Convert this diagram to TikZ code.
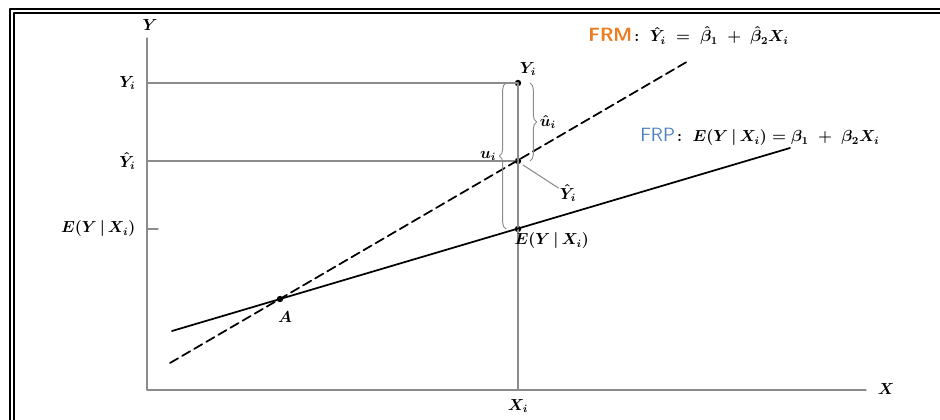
\documentclass[tikz,border=0pt]{standalone}
\usepackage{amsmath}
\usetikzlibrary{calc,decorations.pathreplacing}

\definecolor{frmorange}{HTML}{EE7D22}
\definecolor{frpblue}{HTML}{4F81BD}

\tikzset{
  axis/.style={draw=black!45, line width=1pt},
  guide/.style={draw=black!45, line width=0.8pt},
  lbl/.style={inner sep=1pt, font=\large\boldmath},
  dot/.style={circle, fill=black, inner sep=1.7pt},
  curlybrace/.style={decorate, decoration={brace, amplitude=5pt}, draw=black!45, line width=0.7pt},
}

\begin{document}
\begin{tikzpicture}[x=0.75pt, y=-0.75pt, line cap=round, line join=round]
  \useasboundingbox (0,0) rectangle (940,420);
  \clip (0,0) rectangle (940,420);
  % The double frame, cut off at the right and the bottom.
  \draw[line width=1.2pt] (10,460) -- (10,9) -- (960,9);
  \draw[line width=1.2pt] (14,460) -- (14,13) -- (960,13);

  % Axes.
  \coordinate (O) at (147,390);
  \coordinate (ytop) at (147,38);
  \coordinate (xend) at (866,390);
  \node[lbl] (ylab) at (150,25) {$Y$};
  \node[lbl] (xlab) at (886,389) {$X$};
  \draw[axis] (ytop) -- (O) -- (xend);

  % The three values at X_i, and the point where both lines cross.
  \node[dot] (Yi) at (518,83) {};
  \node[dot] (Yhat) at (518,161) {};
  \node[dot] (EY) at (518,229) {};
  \node[dot] (A) at (280,299) {};
  \coordinate (Xi) at (518,390);

  % Guides to the axes.
  \draw[guide] (Yi.center) -- (Xi);
  \draw[guide] (Yi.center) -- (O |- Yi);
  \draw[guide] (Yhat.center) -- (O |- Yhat);
  \draw[guide] (O |- EY) -- ++(11,0);

  \node[lbl, anchor=east] (yilab) at ($(O |- Yi)+(-10,0)$) {$Y_i$};
  \node[lbl, anchor=east] (yhatlab) at ($(O |- Yhat)+(-10,0)$) {$\hat{Y}_i$};
  \node[lbl, anchor=east] (eylab) at ($(O |- EY)+(-10,0)$) {$E(Y\,|\,X_i)$};
  \node[lbl] (xilab) at (518,406) {$X_i$};

  % Population line (solid) and sample line (dashed).
  \coordinate (frp0) at (172,331);
  \coordinate (frp1) at (790,148);
  \coordinate (frm0) at (170,363);
  \coordinate (frm1) at (690,60);
  \draw[line width=1.3pt] (frp0) -- (frp1);
  \draw[line width=1.3pt, dash pattern=on 7pt off 3.5pt] (frm0) -- (frm1);

  \node[anchor=west, inner sep=0pt] (frmlab) at (588,36)
    {\textcolor{frmorange}{\sffamily\bfseries\Large FRM}\,{\large\boldmath$:\ \hat{Y}_i \;=\; \hat{\beta}_1 \;+\; \hat{\beta}_2 X_i$}};
  \node[anchor=west, inner sep=0pt] (frplab) at (640,137)
    {\textcolor{frpblue}{\sffamily\Large FRP}\,{\large\boldmath$:\ E(Y\,|\,X_i) = \beta_1 \;+\; \beta_2 X_i$}};

  % Labels at the points.
  \node[lbl] (yitop) at (528,69) {$Y_i$};
  \node[lbl, anchor=west] (eyright) at ($(EY)+(-5,12)$) {$E(Y\,|\,X_i)$};
  \node[lbl] (alab) at (285,317) {$A$};
  \node[lbl] (yhatright) at (568,193) {$\hat{Y}_i$};
  \draw[guide] ($(Yhat)+(5,4)$) -- ($(yhatright.west)+(0,-5)$);

  % Residuals as braces.
  \draw[curlybrace] ($(EY)+(-12,0)$) -- ($(Yi)+(-12,0)$)
    node[midway, left=6pt, lbl] (ulab) {$u_i$};
  \draw[curlybrace] ($(Yi)+(12,0)$) -- ($(Yhat)+(12,0)$)
    node[midway, right=6pt, lbl] (uhatlab) {$\hat{u}_i$};
\end{tikzpicture}
\end{document}
